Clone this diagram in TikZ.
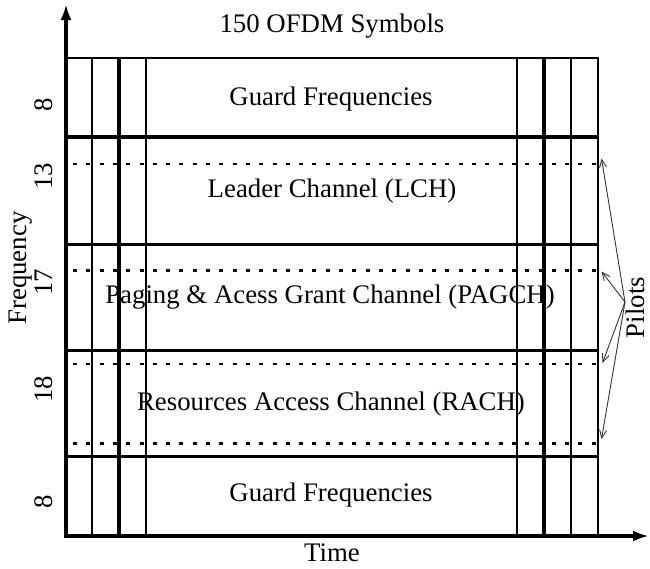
\documentclass[tikz,border=0pt]{standalone}
\usepackage{fontspec}
\setmainfont{Liberation Serif}
\usetikzlibrary{arrows.meta}
\begin{document}
\begin{tikzpicture}[x=1pt,y=-1pt,
  lbl/.style={font=\fontsize{26.8}{32}\selectfont, inner sep=0pt, anchor=base},
  rlbl/.style={lbl, rotate=90},
  thinl/.style={line width=2pt},
  thickl/.style={line width=4pt},
  midl/.style={line width=3pt},
  topl/.style={line width=2.3pt},
  pilotline/.style={line width=2.6pt, dash pattern=on 4pt off 9.3pt, dash phase=6.3pt},
  axisl/.style={line width=4pt, -{Latex[length=16pt,width=11pt]}},
  ptr/.style={line width=0.9pt, draw=black!80, -{Straight Barb[length=8pt,width=7pt]}}
]
\useasboundingbox (0,0) rectangle (650,568);
% horizontal lines
\draw[topl] (66,57.7) -- (598,57.7);
\draw[thickl] (66,137) -- (598,137);
\draw[midl] (66,244.3) -- (598,244.3);
\draw[midl] (66,350.7) -- (598,350.7);
\draw[midl] (66,456.7) -- (598,456.7);
% pilot (dotted) lines
\draw[pilotline] (66,164) -- (598,164);
\draw[pilotline] (66,270.7) -- (598,270.7);
\draw[pilotline] (66,364) -- (598,364);
\draw[pilotline] (66,443.3) -- (598,443.3);
% vertical lines
\foreach \x in {92.3,146,516.7,570.7,598} \draw[thinl] (\x,56.6) -- (\x,536);
\foreach \x in {119,544} \draw[thickl] (\x,56.6) -- (\x,536);
% axes
\coordinate (o) at (66,536);
\coordinate (ytop) at (66,4);
\coordinate (xend) at (649,536);
\draw[axisl] (66,538) -- (ytop);
\draw[axisl] (64,536) -- (xend);
% texts
\node[lbl] (title) at (332,32.7) {150 OFDM Symbols};
\node[lbl] (g1) at (331,105) {Guard Frequencies};
\node[lbl] (lch) at (332,197.3) {Leader Channel (LCH)};
\node[lbl] (pagch) at (330,303) {Paging \& Acess Grant Channel (PAGCH)};
\node[lbl] (rach) at (331,410) {Resources Access Channel (RACH)};
\node[lbl] (g2) at (331,501.7) {Guard Frequencies};
\node[lbl] (time) at (332,561.7) {Time};
\node[rlbl] (freq) at (27,268) {Frequency};
\node[rlbl] (n1) at (52,105) {8};
\node[rlbl] (n2) at (52,176) {13};
\node[rlbl] (n3) at (52,282.5) {17};
\node[rlbl] (n4) at (52,389) {18};
\node[rlbl] (n5) at (52,502) {8};
\node[rlbl] (pilots) at (644,307.5) {Pilots};
% pilot arrows
\coordinate (src) at (625,302);
\coordinate (p1) at (601.5,158.5);
\coordinate (p2) at (601.5,271.5);
\coordinate (p3) at (602.5,363);
\coordinate (p4) at (601.5,439);
\foreach \p in {p1,p2,p3,p4} \draw[ptr] (src) -- (\p);
\end{tikzpicture}
\end{document}
